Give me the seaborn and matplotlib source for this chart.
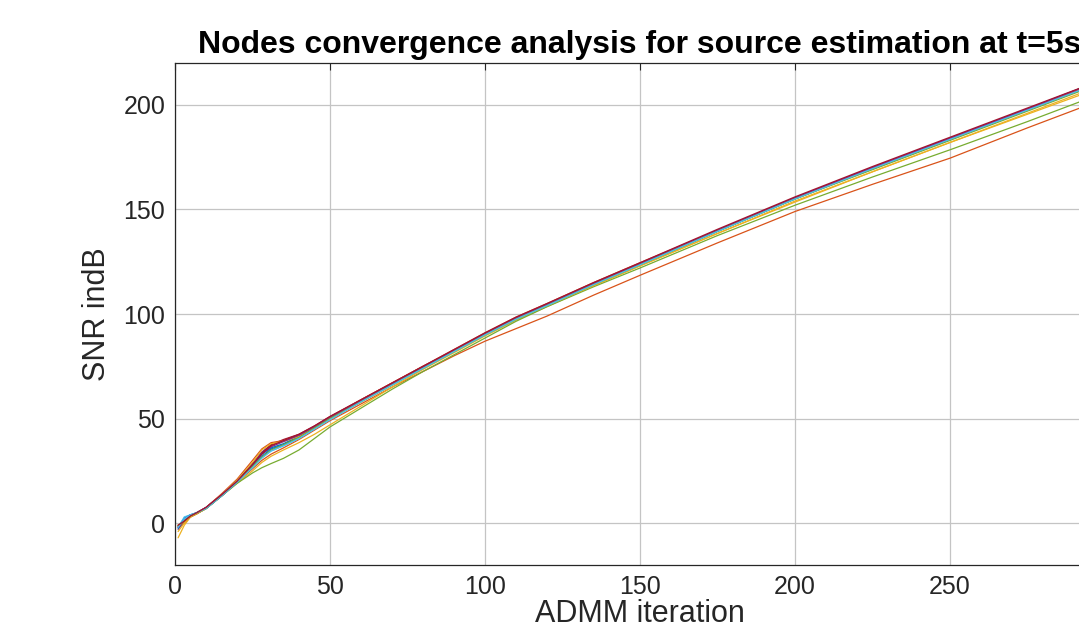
import matplotlib
matplotlib.use("Agg")
import matplotlib.pyplot as plt
import pandas as pd
import seaborn as sns

# ADMM iterations at which the SNR of each node was read
ITER = [1, 3, 5, 7, 10, 15, 20, 25, 28, 31, 35, 40, 45, 50, 60, 70, 80, 90,
        100, 110, 120, 135, 150, 175, 200, 225, 250, 275, 300]

# SNR (dB) per node
NODE_01 = [-2, 2.5, 4, 4.5, 7, 13, 19.5, 27, 32, 35.5, 37.5, 41, 45.5, 50, 58.5, 66.5, 74.5, 82.5, 90.5, 98, 104.5, 114.5, 124, 140, 155.5, 170, 184, 198, 212]
NODE_02 = [-1, 1, 3, 4.5, 7, 13, 19.5, 26, 30, 33, 36, 40, 44.5, 49, 57, 65, 72.5, 80, 87, 93, 99, 109, 118.5, 134, 149, 162, 174.5, 189, 203]
NODE_03 = [-7, -1, 3, 4.5, 7, 13, 19, 25, 29, 32, 35, 38.5, 42.5, 47, 56, 65, 73.5, 81.5, 89.5, 97, 103.5, 113.5, 123, 138.5, 153.5, 168, 182, 195.5, 209]
NODE_04 = [-3, 0.5, 3.5, 5, 7.5, 13.5, 20, 28.5, 34, 37.5, 39.5, 42, 46, 50.5, 58.5, 66.5, 74.5, 82.5, 90.5, 98, 104.5, 114.5, 124, 140, 155.5, 170, 184, 198, 212.5]
NODE_05 = [-1, 1, 3, 4.5, 7, 13, 19, 24, 26.5, 28.5, 31, 35, 40.5, 46, 55, 64, 72.5, 80.5, 88.5, 96.5, 103.5, 113, 122, 137.5, 152, 165.5, 178.5, 192, 206]
NODE_06 = [-2, 3, 4, 5, 7, 13, 19.5, 27, 31.5, 34.5, 37, 40.5, 45, 49.5, 58, 66, 74, 82, 90, 97.5, 104, 114, 123.5, 139.5, 155, 169.5, 183.5, 197.5, 211.5]
NODE_07 = [-1.5, 1, 3.5, 5, 7.5, 13.5, 20, 28, 33.5, 37.5, 40, 42.5, 46.5, 51, 59, 67, 75, 82.5, 90.5, 98, 104.5, 114.5, 124, 140, 155.5, 170, 184, 198, 212]
NODE_08 = [-2.5, 2, 4, 5, 7, 13, 19.5, 27.5, 33, 36, 38, 41.5, 45.5, 50, 58.5, 66.5, 74.5, 82.5, 90.5, 98, 104.5, 114, 123.5, 139.5, 155, 169.5, 183.5, 197.5, 211.5]
NODE_09 = [-1, 0, 3, 4.5, 7.5, 14, 21, 30, 35.5, 38.5, 39.5, 42, 46, 50.5, 59, 67, 75, 83, 91, 98.5, 105, 115, 124.5, 140, 155.5, 170, 184, 198, 212]
NODE_10 = [-4, 0, 3, 4.5, 7, 13.5, 20.5, 29, 35, 38, 39, 41.5, 45.5, 50, 58, 66, 74, 82, 90, 97.5, 104, 113.5, 123, 138.5, 154, 168, 182, 196, 210]
NODE_11 = [-2, 1.5, 3.5, 5, 7.5, 13.5, 20, 28, 33, 36.5, 39, 42, 46, 50.5, 58.5, 66.5, 74.5, 82.5, 90.5, 98, 104.5, 114.5, 124, 140, 155.5, 170, 184, 198, 212.5]
NODE_12 = [-1.5, 1, 3.5, 5, 7, 13, 19.5, 27, 31.5, 35, 37.5, 41, 45.5, 50, 58, 66, 74, 82, 90, 97.5, 104, 114, 123.5, 139.5, 155, 169, 183, 197, 211]
NODE_13 = [-2, 2, 4, 5, 7, 13, 19.5, 26.5, 31, 34.5, 37, 40.5, 45, 49.5, 58, 66, 74, 82, 90, 97.5, 104, 114, 123.5, 139.5, 155, 169.5, 183.5, 197.5, 211.5]
NODE_14 = [-1, 1, 3.5, 5, 7.5, 13.5, 20, 28, 33, 37, 39.5, 42.5, 46.5, 51, 59, 67, 75, 83, 91, 98.5, 105, 115, 124.5, 140.5, 156, 170.5, 184.5, 198.5, 212.5]

NODES = [NODE_01, NODE_02, NODE_03, NODE_04, NODE_05, NODE_06, NODE_07,
         NODE_08, NODE_09, NODE_10, NODE_11, NODE_12, NODE_13, NODE_14]

X_TICKS = [0, 50, 100, 150, 200, 250, 300]
Y_TICKS = [0, 50, 100, 150, 200]

# MATLAB default colour order
MATLAB_COLORS = ["#0072BD", "#D95319", "#EDB120", "#7E2F8E",
                 "#77AC30", "#4DBEEE", "#A2142F"]

rows = []
for i, vals in enumerate(NODES):
    for it, v in zip(ITER, vals):
        rows.append({"node": f"node {i + 1}", "iteration": it, "snr": v})
df = pd.DataFrame(rows)

sns.set_style("white")
plt.rcParams["font.family"] = ["Liberation Sans", "DejaVu Sans"]

fig = plt.figure(figsize=(10.79, 6.37), dpi=100)
# axes deliberately extends past the right edge of the figure (cropped original)
ax = fig.add_axes([175 / 1079, 72 / 637, 930 / 1079, 502 / 637])

palette = [MATLAB_COLORS[i % 7] for i in range(len(NODES))]
sns.lineplot(data=df, x="iteration", y="snr", hue="node", palette=palette,
             linewidth=0.9, legend=False, ax=ax, estimator=None, sort=False)

ax.set_xlim(0, 300)
ax.set_ylim(-20, 220)
ax.set_xticks(X_TICKS)
ax.set_yticks(Y_TICKS)
ax.grid(True, color="#c4c4c4", linewidth=0.9)
ax.set_axisbelow(True)
for s in ax.spines.values():
    s.set_color("#262626")
    s.set_linewidth(0.9)
ax.tick_params(direction="in", length=5, width=0.8, color="#262626",
               labelsize=18, labelcolor="#262626", pad=7,
               top=True, right=True)

ax.set_xlabel("ADMM iteration", fontsize=22, color="#262626", labelpad=0)
ax.set_ylabel("SNR indB", fontsize=22, color="#262626", labelpad=8)
ax.set_title("Nodes convergence analysis for source estimation at t=5s",
             fontsize=23, fontweight="bold", color="#000000", pad=7)

fig.savefig("out.png", dpi=100)
